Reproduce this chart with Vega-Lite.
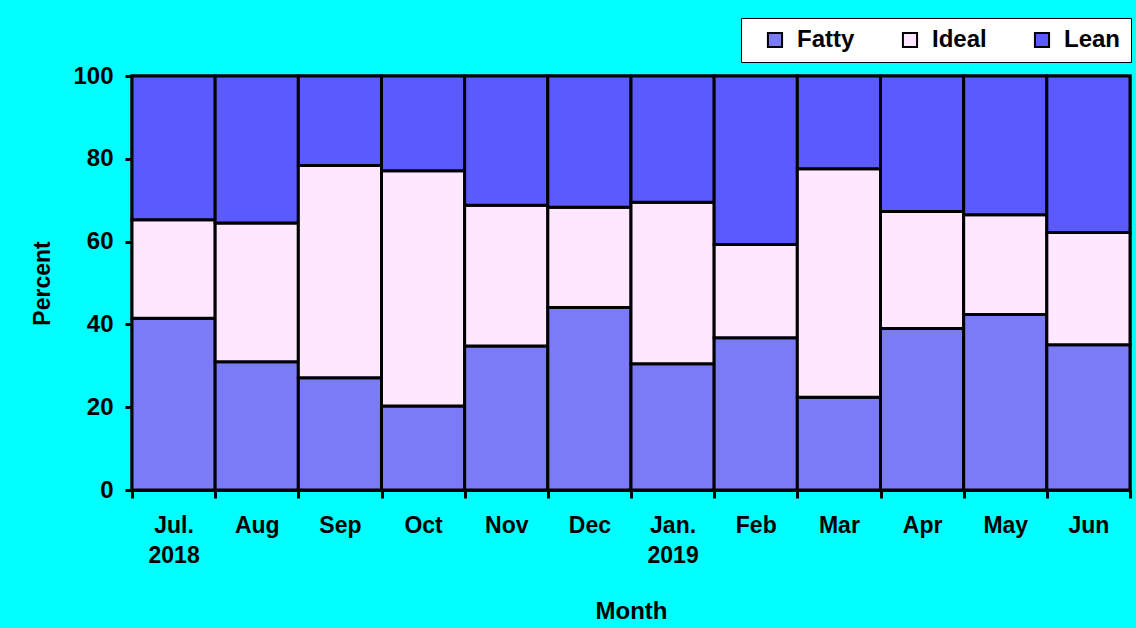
{
  "$schema": "https://vega.github.io/schema/vega-lite/v6.json",
  "width": 998,
  "height": 414,
  "autosize": {"type": "none"},
  "padding": {"left": 132, "top": 76, "right": 6, "bottom": 138},
  "background": "#00FFFF",
  "config": {
    "font": "Liberation Sans",
    "view": {"stroke": "black", "strokeWidth": 3},
    "axis": {
      "domainColor": "black", "domainWidth": 3,
      "tickColor": "black", "tickWidth": 3,
      "labelColor": "black", "labelFont": "Liberation Sans", "labelFontWeight": "bold",
      "titleColor": "black", "titleFont": "Liberation Sans", "titleFontWeight": "bold",
      "grid": false
    }
  },
  "data": {
    "values": [
      {"month": "Jul.|2018", "category": "Fatty", "ord": 1, "value": 41.5},
      {"month": "Jul.|2018", "category": "Ideal", "ord": 2, "value": 23.8},
      {"month": "Jul.|2018", "category": "Lean", "ord": 3, "value": 34.7},
      {"month": "Aug", "category": "Fatty", "ord": 1, "value": 31.0},
      {"month": "Aug", "category": "Ideal", "ord": 2, "value": 33.5},
      {"month": "Aug", "category": "Lean", "ord": 3, "value": 35.5},
      {"month": "Sep", "category": "Fatty", "ord": 1, "value": 27.1},
      {"month": "Sep", "category": "Ideal", "ord": 2, "value": 51.3},
      {"month": "Sep", "category": "Lean", "ord": 3, "value": 21.6},
      {"month": "Oct", "category": "Fatty", "ord": 1, "value": 20.3},
      {"month": "Oct", "category": "Ideal", "ord": 2, "value": 56.8},
      {"month": "Oct", "category": "Lean", "ord": 3, "value": 22.9},
      {"month": "Nov", "category": "Fatty", "ord": 1, "value": 34.8},
      {"month": "Nov", "category": "Ideal", "ord": 2, "value": 34.0},
      {"month": "Nov", "category": "Lean", "ord": 3, "value": 31.2},
      {"month": "Dec", "category": "Fatty", "ord": 1, "value": 44.1},
      {"month": "Dec", "category": "Ideal", "ord": 2, "value": 24.2},
      {"month": "Dec", "category": "Lean", "ord": 3, "value": 31.7},
      {"month": "Jan.|2019", "category": "Fatty", "ord": 1, "value": 30.5},
      {"month": "Jan.|2019", "category": "Ideal", "ord": 2, "value": 39.0},
      {"month": "Jan.|2019", "category": "Lean", "ord": 3, "value": 30.5},
      {"month": "Feb", "category": "Fatty", "ord": 1, "value": 36.8},
      {"month": "Feb", "category": "Ideal", "ord": 2, "value": 22.5},
      {"month": "Feb", "category": "Lean", "ord": 3, "value": 40.7},
      {"month": "Mar", "category": "Fatty", "ord": 1, "value": 22.4},
      {"month": "Mar", "category": "Ideal", "ord": 2, "value": 55.2},
      {"month": "Mar", "category": "Lean", "ord": 3, "value": 22.4},
      {"month": "Apr", "category": "Fatty", "ord": 1, "value": 39.0},
      {"month": "Apr", "category": "Ideal", "ord": 2, "value": 28.3},
      {"month": "Apr", "category": "Lean", "ord": 3, "value": 32.7},
      {"month": "May", "category": "Fatty", "ord": 1, "value": 42.4},
      {"month": "May", "category": "Ideal", "ord": 2, "value": 24.1},
      {"month": "May", "category": "Lean", "ord": 3, "value": 33.5},
      {"month": "Jun", "category": "Fatty", "ord": 1, "value": 35.1},
      {"month": "Jun", "category": "Ideal", "ord": 2, "value": 27.1},
      {"month": "Jun", "category": "Lean", "ord": 3, "value": 37.8}
    ]
  },
  "mark": {"type": "bar", "stroke": "black", "strokeWidth": 3},
  "encoding": {
    "x": {
      "field": "month", "type": "nominal", "sort": null,
      "scale": {"paddingInner": 0, "paddingOuter": 0},
      "axis": {
        "title": "Month", "titleFontSize": 24, "titlePadding": 32,
        "labelAngle": 0, "labelFontSize": 23, "labelPadding": 16,
        "labelLineHeight": 30, "labelBaseline": "top",
        "labelExpr": "split(datum.label, '|')",
        "tickBand": "extent", "tickSize": 8
      }
    },
    "y": {
      "field": "value", "type": "quantitative", "stack": "zero",
      "scale": {"domain": [0, 100], "nice": false},
      "axis": {
        "title": "Percent", "titleFontSize": 23, "titlePadding": 18,
        "values": [0, 20, 40, 60, 80, 100],
        "labelFontSize": 24, "labelPadding": 12, "tickSize": 7
      }
    },
    "color": {
      "field": "category", "type": "nominal",
      "scale": {"domain": ["Fatty", "Ideal", "Lean"], "range": ["#7B7BF6", "#FFE8FF", "#5A5AFF"]},
      "legend": {
        "title": null, "orient": "none", "legendX": 609, "legendY": -58,
        "direction": "horizontal", "fillColor": "white", "strokeColor": "black",
        "padding": 10, "labelFontSize": 24, "labelFontWeight": "bold", "labelColor": "black",
        "symbolType": "square", "symbolSize": 200, "symbolStrokeColor": "black",
        "symbolStrokeWidth": 2, "symbolOpacity": 1, "symbolOffset": 12,
        "columnPadding": 31, "labelOffset": 10
      }
    },
    "order": {"field": "ord", "type": "quantitative"}
  }
}
